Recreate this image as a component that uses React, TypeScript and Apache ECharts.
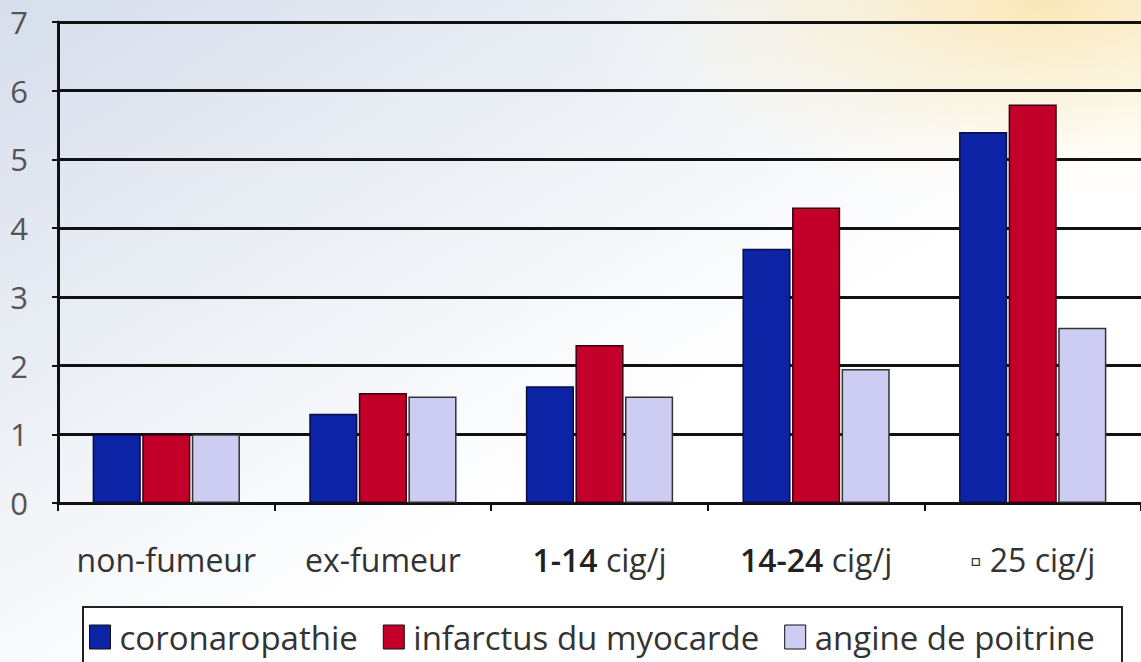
import React, { useEffect, useRef } from "react";
import * as echarts from "echarts";

const categories = ["non-fumeur", "ex-fumeur", "1-14 cig/j", "14-24 cig/j", "▫ 25 cig/j"];
const yTicks = [0, 1, 2, 3, 4, 5, 6, 7];
const coronaropathie = [1.0, 1.3, 1.7, 3.7, 5.4];
const infarctus = [1.0, 1.6, 2.3, 4.3, 5.8];
const angine = [1.0, 1.55, 1.55, 1.95, 2.55];
const seriesNames = ["coronaropathie", "infarctus du myocarde", "angine de poitrine"];

const FONT = "Open Sans";

export default function App() {
  const ref = useRef<HTMLDivElement>(null);
  useEffect(() => {
    if (!ref.current) return;
    const chart = echarts.init(ref.current, undefined, { renderer: "svg" });
    const mkSeries = (name: string, data: number[], color: string, border: string) => ({
      name,
      type: "bar",
      data,
      barCategoryGap: "32%",
      barGap: "3%",
      itemStyle: { color, borderColor: border, borderWidth: 1.5 },
    });
    chart.setOption({
      animation: false,
      backgroundColor: "#ffffff",
      textStyle: { fontFamily: FONT },
      graphic: [
        {
          type: "rect",
          z: -10,
          silent: true,
          shape: { x: 0, y: 0, width: 1141, height: 662 },
          style: {
            fill: new echarts.graphic.LinearGradient(0, 0, 1, 1, [
              { offset: 0, color: "#d6deec" },
              { offset: 0.35, color: "#eef1f6" },
              { offset: 0.6, color: "#ffffff" },
              { offset: 1, color: "#ffffff" },
            ]),
          },
        },
        {
          type: "rect",
          z: -9,
          silent: true,
          shape: { x: 500, y: 0, width: 641, height: 300 },
          style: {
            fill: new echarts.graphic.RadialGradient(0.85, 0, 0.75, [
              { offset: 0, color: "rgba(250,228,170,0.85)" },
              { offset: 0.5, color: "rgba(252,240,205,0.5)" },
              { offset: 1, color: "rgba(255,255,255,0)" },
            ]),
          },
        },
        {
          type: "rect",
          z: 5,
          silent: true,
          shape: { x: 83, y: 607, width: 1039, height: 70 },
          style: { fill: "rgba(255,255,255,0.9)", stroke: "#222", lineWidth: 2 },
        },
      ],
      legend: {
        data: seriesNames,
        left: 89,
        top: 619,
        z: 10,
        padding: 0,
        itemWidth: 21,
        itemHeight: 24,
        itemGap: 25,
        icon: "rect",
        textStyle: {
          fontFamily: FONT,
          fontSize: 33,
          lineHeight: 36,
          color: "#333",
          padding: [0, 0, 0, 4],
        },
        itemStyle: { borderColor: "#111", borderWidth: 1 },
      },
      grid: { left: 58, right: -4, top: 22, bottom: 159, containLabel: false },
      xAxis: {
        type: "category",
        data: categories,
        axisLine: { show: true, lineStyle: { color: "#111", width: 3 } },
        axisTick: { show: true, length: 8, lineStyle: { color: "#111", width: 2 } },
        axisLabel: {
          interval: 0,
          hideOverlap: false,
          margin: 40,
          fontFamily: FONT,
          fontSize: 32,
          color: "#333",
          formatter: (v: string) => {
            const m = v.match(/^([0-9]+-[0-9]+) (.*)$/);
            return m ? `{num|${m[1]}} {txt|${m[2]}}` : `{txt|${v}}`;
          },
          rich: {
            num: { fontFamily: FONT, fontSize: 32, fontWeight: 600, color: "#222" },
            txt: { fontFamily: FONT, fontSize: 32, color: "#333" },
          },
        },
      },
      yAxis: {
        type: "value",
        min: 0,
        max: 7,
        interval: 1,
        axisLine: { show: true, lineStyle: { color: "#111", width: 3 } },
        axisTick: { show: true, length: 6, lineStyle: { color: "#111", width: 2 } },
        axisLabel: {
          margin: 30,
          fontFamily: FONT,
          fontSize: 31,
          color: "#555",
          formatter: (v: number) => (yTicks.includes(v) ? String(v) : ""),
        },
        splitLine: { show: true, lineStyle: { color: "#111", width: 3 } },
      },
      series: [
        mkSeries(seriesNames[0], coronaropathie, "#0c23a6", "#0a0f40"),
        mkSeries(seriesNames[1], infarctus, "#c20029", "#3a0010"),
        mkSeries(seriesNames[2], angine, "#cdcdf4", "#333333"),
      ],
    });
    return () => chart.dispose();
  }, []);
  return (
    <div
      ref={ref}
      style={{ position: "fixed", left: 0, top: 0, width: 1141, height: 662 }}
    />
  );
}
